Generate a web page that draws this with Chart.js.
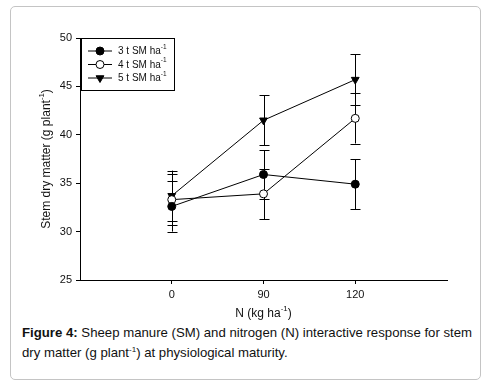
<!DOCTYPE html>
<html lang="en">
<head>
<meta charset="UTF-8">
<title>stem dry matter</title>
<script src="https://cdn.jsdelivr.net/npm/chart.js"></script>
<style>
  body { margin: 0; padding: 0; background: #fff; font-family: "Liberation Sans", Arial, sans-serif; }
  .frame {
    position: absolute; left: 10px; top: 6px; width: 469px; height: 372px;
    border: 1px solid #c4c4c4; border-radius: 5px;
  }
  .plot { position: absolute; left: 0; top: 0; width: 486px; height: 322px; }
  .caption {
    position: absolute; left: 22px; top: 323px; width: 460px;
    font-size: 13.2px; line-height: 20px; color: #111;
  }
  .caption b { font-weight: bold; }
  .caption sup { font-size: 8px; line-height: 0; vertical-align: 5px; }
</style>
</head>
<body>
<div class="frame"></div>
<div class="plot"><canvas id="chart" width="486" height="322"></canvas></div>
<div class="caption"><b>Figure 4:</b> Sheep manure (SM) and nitrogen (N) interactive response for stem dry matter (g plant<sup>-1</sup>) at physiological maturity.</div>

<script>
// x categories (N rate, kg/ha)
var nLabels = ['0', '90', '120'];
var seriesNames = ['3 t SM ha', '4 t SM ha', '5 t SM ha'];

// stem dry matter means and error bars
var sm3 = [32.6, 35.9, 34.9];
var sm3Err = [2.6, 2.5, 2.6];
var sm4 = [33.3, 33.9, 41.7];
var sm4Err = [2.6, 2.6, 2.6];
var sm5 = [33.7, 41.5, 45.7];
var sm5Err = [2.6, 2.6, 2.6];

var yTicks = [25, 30, 35, 40, 45, 50];

var errs = [sm3Err, sm4Err, sm5Err];

function pts(arr) {
  return arr.map(function (v, i) { return { x: i, y: v }; });
}

// text with a superscript part, e.g. ha^-1
function supText(ctx, parts, x, y, size) {
  var w = 0;
  parts.forEach(function (p) {
    ctx.font = (p[1] ? size * 0.65 : size) + 'px "Liberation Sans", Arial, sans-serif';
    w += ctx.measureText(p[0]).width;
  });
  var cx = x - w / 2;
  parts.forEach(function (p) {
    ctx.font = (p[1] ? size * 0.65 : size) + 'px "Liberation Sans", Arial, sans-serif';
    ctx.fillText(p[0], cx, p[1] ? y - size * 0.4 : y);
    cx += ctx.measureText(p[0]).width;
  });
}

var errorBars = {
  id: 'errorBars',
  beforeDatasetsDraw: function (chart) {
    var ctx = chart.ctx, xs = chart.scales.x, ys = chart.scales.y;
    ctx.save();
    ctx.strokeStyle = '#000';
    ctx.lineWidth = 1;
    chart.data.datasets.forEach(function (ds, d) {
      ds.data.forEach(function (p, i) {
        var px = Math.round(xs.getPixelForValue(p.x)) + 0.5;
        var top = ys.getPixelForValue(p.y + errs[d][i]);
        var bot = ys.getPixelForValue(p.y - errs[d][i]);
        ctx.beginPath();
        ctx.moveTo(px, top); ctx.lineTo(px, bot);
        ctx.moveTo(px - 5, Math.round(top) + 0.5); ctx.lineTo(px + 5, Math.round(top) + 0.5);
        ctx.moveTo(px - 5, Math.round(bot) + 0.5); ctx.lineTo(px + 5, Math.round(bot) + 0.5);
        ctx.stroke();
      });
    });
    ctx.restore();
  }
};

var labelsAndLegend = {
  id: 'labelsAndLegend',
  afterDraw: function (chart) {
    var ctx = chart.ctx, a = chart.chartArea;
    ctx.save();
    ctx.fillStyle = '#111';
    ctx.textBaseline = 'middle';

    // x title
    supText(ctx, [['N (kg ha', false], ['-1', true], [')', false]], (a.left + a.right) / 2, 314, 12);

    // y title
    ctx.save();
    ctx.translate(47, (a.top + a.bottom) / 2);
    ctx.rotate(-Math.PI / 2);
    supText(ctx, [['Stem dry matter (g plant', false], ['-1', true], [')', false]], 0, 0, 12);
    ctx.restore();

    // legend box
    var lx = a.left + 1, ly = a.top, lw = 93, lh = 52;
    ctx.strokeStyle = '#000';
    ctx.lineWidth = 1;
    ctx.strokeRect(lx + 0.5, ly + 0.5, lw, lh);
    chart.data.datasets.forEach(function (ds, d) {
      var ry = ly + 13 + d * 13.5;
      ctx.strokeStyle = '#000';
      ctx.beginPath();
      ctx.moveTo(lx + 7, ry); ctx.lineTo(lx + 31, ry);
      ctx.stroke();
      ctx.fillStyle = ds.pointBackgroundColor;
      Chart.helpers.drawPoint(ctx, {
        pointStyle: ds.pointStyle, rotation: ds.pointRotation || 0,
        radius: ds.pointRadius, borderWidth: 1
      }, lx + 19, ry);
      ctx.fillStyle = '#111';
      ctx.textAlign = 'left';
      ctx.font = '10px "Liberation Sans", Arial, sans-serif';
      ctx.fillText(seriesNames[d], lx + 37, ry + 0.5);
      var w = ctx.measureText(seriesNames[d]).width;
      ctx.font = '6.5px "Liberation Sans", Arial, sans-serif';
      ctx.fillText('-1', lx + 37 + w, ry - 4);
    });
    ctx.restore();
  }
};

function ds(name, vals, style, fill, rot) {
  return {
    label: name,
    data: pts(vals),
    borderColor: '#000',
    borderWidth: 1,
    pointStyle: style,
    pointRotation: rot || 0,
    pointRadius: style === 'triangle' ? 4.5 : 4,
    pointBackgroundColor: fill,
    pointBorderColor: '#000',
    pointBorderWidth: 1,
    tension: 0
  };
}

var chart = new Chart(document.getElementById('chart'), {
  type: 'line',
  data: {
    datasets: [
      ds(seriesNames[0], sm3, 'circle', '#000'),
      ds(seriesNames[1], sm4, 'circle', '#fff'),
      ds(seriesNames[2], sm5, 'triangle', '#000', 180)
    ]
  },
  options: {
    responsive: false,
    animation: false,
    layout: { padding: { left: 0, right: 39, top: 38, bottom: 0 } },
    plugins: { legend: { display: false }, tooltip: { enabled: false } },
    scales: {
      x: {
        type: 'linear', min: -1, max: 3,
        afterBuildTicks: function (s) { s.ticks = [{ value: 0 }, { value: 1 }, { value: 2 }]; },
        afterFit: function (s) { s.height = 42; },
        grid: { drawOnChartArea: false, drawTicks: true, tickLength: 4, color: '#000' },
        border: { color: '#000', width: 1 },
        ticks: {
          color: '#111', padding: 4,
          font: { family: '"Liberation Sans", Arial, sans-serif', size: 11 },
          callback: function (v) { return nLabels[v]; }
        }
      },
      y: {
        min: 25, max: 50,
        afterBuildTicks: function (s) { s.ticks = yTicks.map(function (v) { return { value: v }; }); },
        afterFit: function (s) { s.width = 80; },
        grid: { drawOnChartArea: false, drawTicks: true, tickLength: 4, color: '#000' },
        border: { color: '#000', width: 1 },
        ticks: {
          color: '#111', padding: 4,
          font: { family: '"Liberation Sans", Arial, sans-serif', size: 11 }
        }
      }
    }
  },
  plugins: [errorBars, labelsAndLegend]
});
</script>
</body>
</html>
